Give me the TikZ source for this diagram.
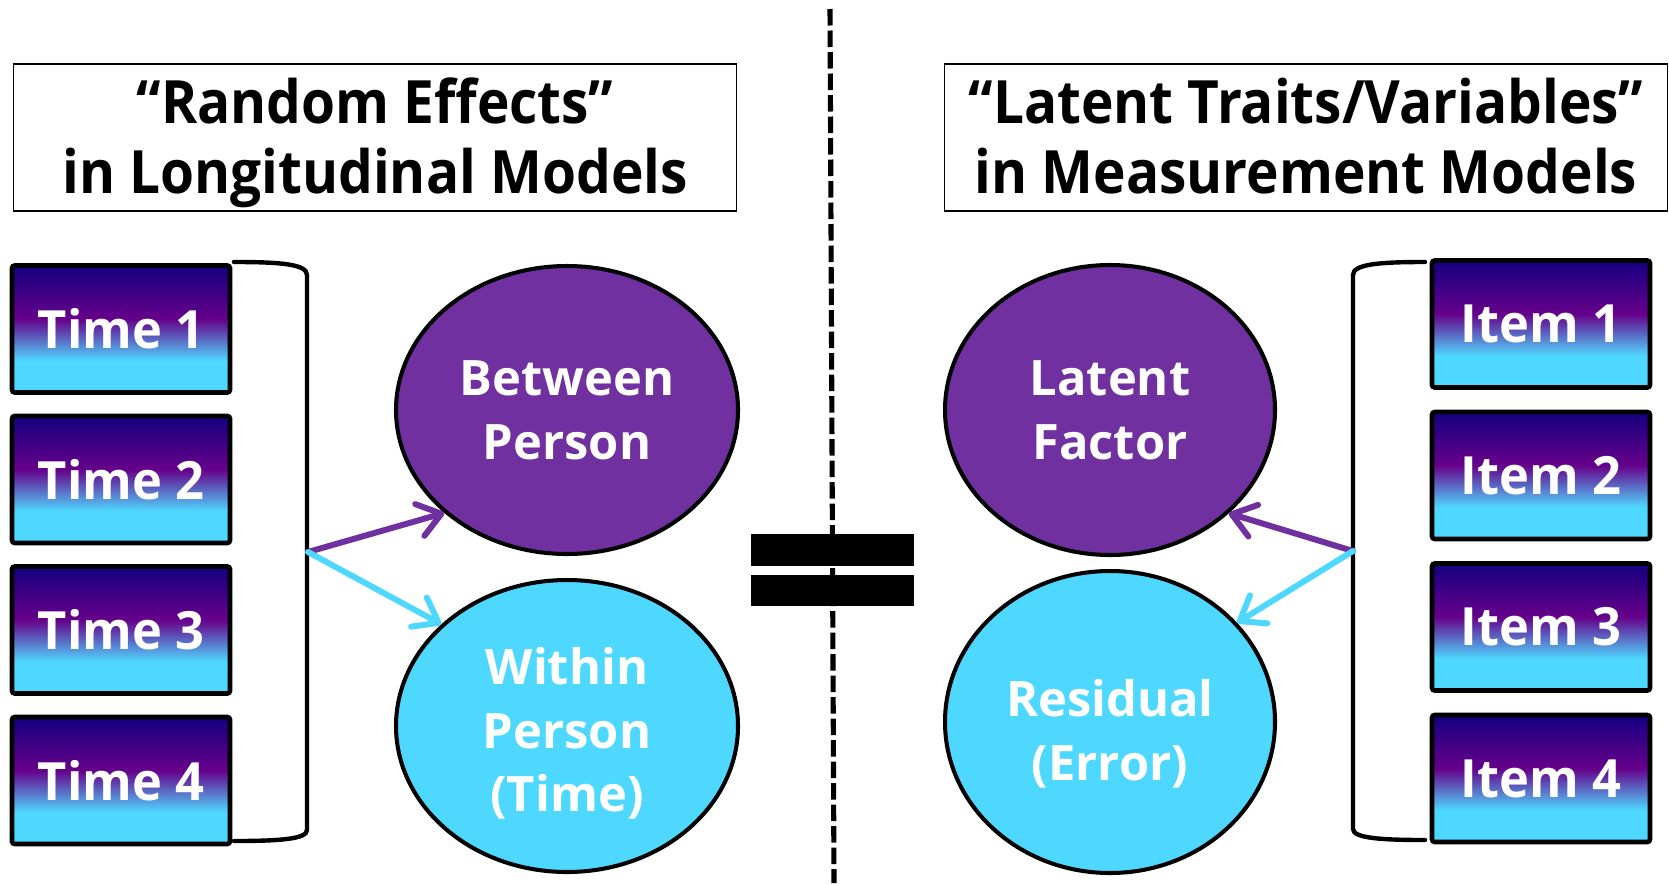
\documentclass[tikz,border=0pt]{standalone}
\usepackage{fontspec}
\setsansfont{Open Sans}
\newfontfamily\headfont{Open Sans}[FakeStretch=0.92]
\newfontfamily\tilefont{Open Sans}[FakeStretch=0.96]
\usetikzlibrary{arrows.meta, shapes.geometric}
\definecolor{cnavy}{HTML}{14007F}
\definecolor{cplum}{HTML}{66008A}
\definecolor{csky}{HTML}{4FD8FF}
\definecolor{cpurple}{HTML}{7030A0}
% navy at the top, plum a bit above the middle, sky blue in the lower quarter
\pgfdeclareverticalshading{stripe}{100bp}{color(0bp)=(csky); color(37.5bp)=(csky); color(54bp)=(cplum); color(75bp)=(cnavy); color(100bp)=(cnavy)}
% two heading lines with fixed room above and below, so both headings sit alike
\newcommand{\heading}[2]{\rule{0pt}{1.15cm}#1\\#2\rule[-0.3cm]{0pt}{0.3cm}}
\tikzset{
  every picture/.style={font=\sffamily\bfseries},
  titlebox/.style={draw=black, line width=1.1pt, inner sep=0pt, minimum width=14.46cm, minimum height=2.94cm, align=center, font=\headfont\bfseries\fontsize{34}{39.7}\selectfont},
  tile/.style={draw=black, line width=2.6pt, rounded corners=1.5pt, shade, shading=stripe, minimum width=4.36cm, minimum height=2.54cm, text=white, font=\tilefont\bfseries\fontsize{30}{36}\selectfont},
  blob/.style={ellipse, draw=black, line width=2.3pt, fill=#1, inner sep=0pt, text=white, align=center, font=\sffamily\bfseries\fontsize{27.8}{36.3}\selectfont},
  blob/.default=cpurple,
  bracket/.style={line width=2.5pt, line cap=round},
  link/.style={-{Straight Barb[length=0.45cm, width=0.66cm, round]}, line width=3.4pt, draw=#1, line cap=round},
}

\begin{document}
\begin{tikzpicture}
  \useasboundingbox (0,0) rectangle (33.38,-17.66);

  % divider, with the equals sign laid over it
  \draw[line width=2.9pt, dash pattern=on 0.33cm off 0.1cm] (16.6,-0.18) -- (16.68,-17.66);
  \fill (15.02,-10.68) rectangle (18.28,-11.32);
  \fill (15.02,-11.5) rectangle (18.28,-12.12);

  % headings
  \node[titlebox] (lhead) at (7.5,-2.75) {\heading{“Random Effects”}{in Longitudinal Models}};
  \node[titlebox] (rhead) at (26.12,-2.75) {\heading{“Latent Traits/Variables”}{in Measurement Models}};

  % occasions on the left, items on the right
  \foreach \i in {1,...,4} {
    \node[tile] (time\i) at (2.42,{-3.57-3.01*\i}) {Time \i};
    \node[tile] (item\i) at (30.82,{-3.45-3.03*\i}) {Item \i};
  }

  % the two parts
  \node[blob, minimum width=6.84cm, minimum height=5.76cm] (between) at (11.34,-8.2) {Between\\Person};
  \node[blob=csky, minimum width=6.84cm, minimum height=5.84cm] (within) at (11.34,-14.52) {\rule{0pt}{1.04cm}Within\\Person\\(Time)};
  \node[blob, minimum width=6.6cm, minimum height=5.8cm] (latent) at (22.2,-8.2) {Latent\\Factor};
  \node[blob=csky, minimum width=6.6cm, minimum height=6.04cm] (resid) at (22.2,-14.44) {\rule{0pt}{1.2cm}Residual\\(Error)};

  % brackets gathering the boxes
  \draw[bracket] (4.68,-5.24) .. controls (5.6,-5.24) and (6.14,-5.28) .. (6.14,-5.5) -- (6.14,-16.6) .. controls (6.14,-16.78) and (5.6,-16.82) .. (4.68,-16.82);
  \draw[bracket] (28.5,-5.24) .. controls (27.6,-5.24) and (27.06,-5.28) .. (27.06,-5.5) -- (27.06,-16.58) .. controls (27.06,-16.76) and (27.6,-16.8) .. (28.5,-16.8);
  \coordinate (lhub) at (6.16,-11.04);
  \coordinate (rhub) at (27.06,-11.02);

  \draw[link=cpurple] (lhub) -- (between.220);
  \draw[link=csky] (lhub) -- (within.141);
  \draw[link=cpurple] (rhub) -- (latent.319);
  \draw[link=csky] (rhub) -- (resid.38);
\end{tikzpicture}
\end{document}
